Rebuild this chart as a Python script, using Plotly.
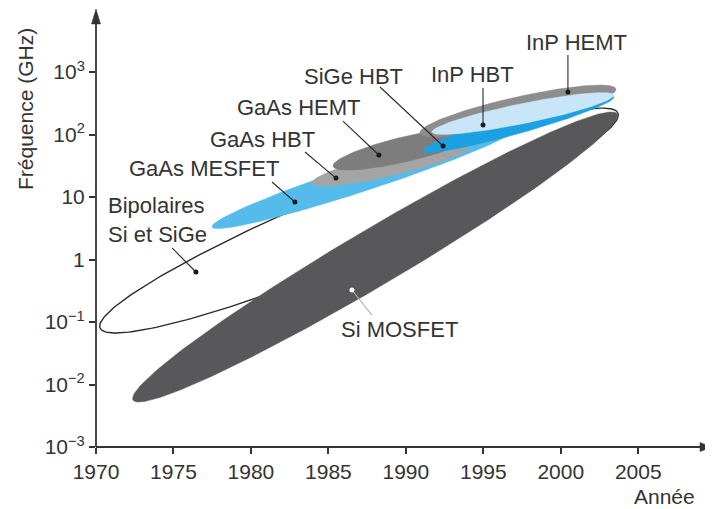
import numpy as np
import plotly.graph_objects as go

# ---------------- data ----------------
tech_names = ["Bipolaires Si et SiGe", "Si MOSFET", "GaAs MESFET", "GaAs HBT",
              "GaAs HEMT", "InP HEMT", "SiGe HBT", "InP HBT"]
# each domain is an ellipse (in year / log-frequency space) between two ends
year_start = [1970.26, 1972.39, 1977.49, 1983.94, 1985.30, 1990.91, 1991.10, 1991.69]
freq_start = [0.0802, 0.00565, 3.31, 16.7, 31.0, 105.7, 54.5, 109.6]      # GHz
year_end   = [2003.69, 2003.63, 1997.37, 1994.14, 1994.78, 2003.56, 2003.43, 2003.43]
freq_end   = [220.0, 213.0, 136.8, 65.5, 112.0, 535.0, 398.0, 428.5]      # GHz
spread_dec = [0.576, 0.448, 0.216, 0.176, 0.200, 0.224, 0.150, 0.160]   # half-width, decades

# labels: text position, pointer start, pointer dot (year, GHz)
label_text = ["Bipolaires<br>Si et SiGe", "Si MOSFET", "GaAs MESFET", "GaAs HBT",
              "GaAs HEMT", "InP HEMT", "SiGe HBT", "InP HBT"]
label_year = [1970.65, 1989.62, 1976.94, 1980.75, 1983.10, 2001.04, 1986.65, 1994.33]
label_freq = [4.21, 0.0745, 29.1, 81.7, 275.0, 3020.0, 832.0, 929.0]
ptr_year0 = [1974.91, 1987.81, 1981.36, 1983.49, 1985.94, 2000.46, 1988.33, 1994.98]
ptr_freq0 = [1.53, 0.129, 17.4, 52.5, 164.0, 1870.0, 575.0, 555.0]
ptr_year1 = [1976.45, 1986.52, 1982.84, 1985.49, 1988.26, 2000.46, 1992.40, 1994.98]
ptr_freq1 = [0.631, 0.325, 8.32, 20.1, 47.0, 479.0, 65.5, 142.0]

x_ticks = [1970, 1975, 1980, 1985, 1990, 1995, 2000, 2005]
y_ticks = [1e-3, 1e-2, 1e-1, 1, 10, 100, 1000]
y_tick_text = ["10<sup>−3</sup>", "10<sup>−2</sup>", "10<sup>−1</sup>", "1", "10",
               "10<sup>2</sup>", "10<sup>3</sup>"]

# ---------------- styles / geometry ----------------
fills = ["#ffffff", "#58585a", "#55bbea", "#a4a4a4", "#7d7d7d", "#8d8d8d", "#1ba0e2", "#c8e6f7"]
FONT = "Liberation Sans, Arial, Helvetica, sans-serif"
TXT = "#333333"
AX = "#333333"

OFF = 8                       # default page margin of the html body
W, H = 713 - OFF, 509 - OFF
ML, MR, MT, MB = 96 - OFF, 1, 1, 62
X0, X1 = 1970, 2009.76
PW, PH = W - ML - MR, H - MT - MB
Y0 = -3.0
Y1 = Y0 + PH / 62.5
sx = PW / (X1 - X0)
sy = PH / (Y1 - Y0)


def ellipse(y1, f1, y2, f2, b_dec, n=260):
    p1 = np.array([y1 * sx, np.log10(f1) * sy])
    p2 = np.array([y2 * sx, np.log10(f2) * sy])
    c = (p1 + p2) / 2
    d = p2 - p1
    a = np.linalg.norm(d) / 2
    d = d / (2 * a)
    nv = np.array([-d[1], d[0]])
    t = np.linspace(0, 2 * np.pi, n)
    pts = c[:, None] + a * np.cos(t) * d[:, None] + b_dec * sy * np.sin(t) * nv[:, None]
    return pts[0] / sx, 10 ** (pts[1] / sy)


def px_to_paper(px, py):
    # reference-image pixel -> paper coordinates
    return (px - OFF - ML) / PW, (H - MB - (py - OFF)) / PH


fig = go.Figure()
for i, name in enumerate(tech_names):
    ex, ey = ellipse(year_start[i], freq_start[i], year_end[i], freq_end[i], spread_dec[i])
    if i == 0:
        line = dict(color="#2a2a2a", width=1.4)
    else:
        line = dict(color=fills[i], width=0.5)
    fig.add_trace(go.Scatter(x=ex, y=ey, mode="lines", fill="toself", fillcolor=fills[i],
                             line=line, name=name, hoverinfo="skip", showlegend=False))

# pointers
for i in range(len(tech_names)):
    lc = "#b0b0b0" if tech_names[i] == "Si MOSFET" else "#2a2a2a"
    dc = "#ffffff" if tech_names[i] == "Si MOSFET" else "#1a1a1a"
    fig.add_trace(go.Scatter(x=[ptr_year0[i], ptr_year1[i]], y=[ptr_freq0[i], ptr_freq1[i]],
                             mode="lines", line=dict(color=lc, width=1.1),
                             hoverinfo="skip", showlegend=False))
    fig.add_trace(go.Scatter(x=[ptr_year1[i]], y=[ptr_freq1[i]], mode="markers",
                             marker=dict(color=dc, size=5), hoverinfo="skip", showlegend=False))

annotations = []
for i in range(len(tech_names)):
    left = i == 0
    annotations.append(dict(x=label_year[i], y=np.log10(label_freq[i]), xref="x", yref="y",
                            text=label_text[i], showarrow=False,
                            xanchor="left" if left else "center", yanchor="middle",
                            align="left", font=dict(family=FONT, size=22, color=TXT)))

tx, ty = px_to_paper(25, 109)
annotations.append(dict(x=tx, y=ty, xref="paper", yref="paper", text="Fréquence (GHz)",
                        textangle=-90, xanchor="center", yanchor="middle",
                        showarrow=False, font=dict(family=FONT, size=21, color=TXT)))
tx, ty = px_to_paper(664, 496)
annotations.append(dict(x=tx, y=ty, xref="paper", yref="paper", text="Année",
                        xanchor="center", yanchor="middle",
                        showarrow=False, font=dict(family=FONT, size=21, color=TXT)))

# axis lines with arrow heads
shapes = [
    dict(type="line", xref="paper", yref="paper", x0=0, y0=0, x1=0.985, y1=0,
         line=dict(color=AX, width=1.8), layer="above"),
    dict(type="line", xref="paper", yref="paper", x0=0, y0=0, x1=0, y1=0.97,
         line=dict(color=AX, width=1.8), layer="above"),
    dict(type="path", xref="paper", yref="paper", xsizemode="pixel", ysizemode="pixel",
         xanchor=1, yanchor=0, path="M 0,0 L -12,4.5 L -12,-4.5 Z",
         fillcolor=AX, line=dict(color=AX, width=0.5), layer="above"),
    dict(type="path", xref="paper", yref="paper", xsizemode="pixel", ysizemode="pixel",
         xanchor=0, yanchor=1, path="M 0,0 L -4.5,-15 L 4.5,-15 Z",
         fillcolor=AX, line=dict(color=AX, width=0.5), layer="above"),
]

fig.update_layout(
    width=W, height=H,
    margin=dict(l=ML, r=MR, t=MT, b=MB),
    paper_bgcolor="white", plot_bgcolor="white",
    annotations=annotations, shapes=shapes,
    xaxis=dict(range=[X0, X1], tickvals=x_ticks, ticks="outside", ticklen=6, tickwidth=1.5,
               tickcolor=AX, showgrid=False, zeroline=False, showline=False,
               tickfont=dict(family=FONT, size=21, color=TXT)),
    yaxis=dict(type="log", range=[Y0, Y1], tickvals=y_ticks, ticktext=y_tick_text,
               ticks="outside", ticklen=6, tickwidth=1.5, tickcolor=AX,
               showgrid=False, zeroline=False, showline=False,
               tickfont=dict(family=FONT, size=21, color=TXT)),
)

fig.write_html("out.html")
